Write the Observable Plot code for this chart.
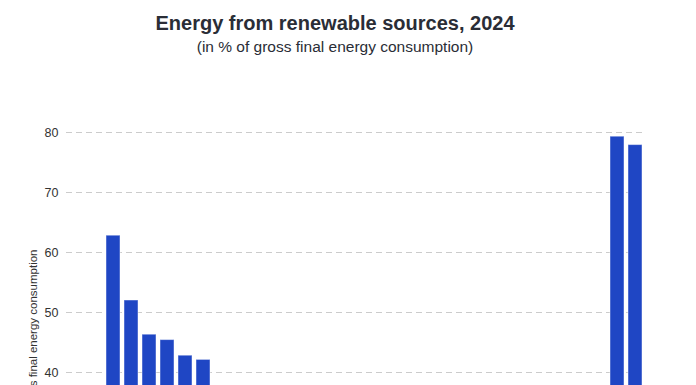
<!DOCTYPE html>
<html>
<head>
<meta charset="utf-8">
<script src="https://cdn.jsdelivr.net/npm/d3@7"></script>
<script src="https://cdn.jsdelivr.net/npm/@observablehq/plot@0.6"></script>
<style>
  html, body { margin: 0; padding: 0; background: #fff; }
  body { font-family: "Liberation Sans", Arial, Helvetica, sans-serif; width: 696px; height: 385px; overflow: hidden; }
  #title { box-sizing: border-box; height: 34px; padding-top: 12px; width: 670px; text-align: center;
           font-size: 20px; line-height: 22px; font-weight: bold; color: #2a2d36; }
  #subtitle { box-sizing: border-box; height: 26px; padding-top: 4px; width: 670px; text-align: center;
              font-size: 15.5px; line-height: 17px; color: #2a2d36; }
  #chart { height: 325px; overflow: hidden; }
  #chart svg { display: block; overflow: hidden; }
</style>
</head>
<body>
<div id="title">Energy from renewable sources, 2024</div>
<div id="subtitle">(in % of gross final energy consumption)</div>
<div id="chart"></div>
<script>
// Categories in display order (blank entries are spacer slots)
const categories = ["EU", " ", "Sweden", "Finland", "Denmark", "Estonia", "Latvia", "Austria",
  "Portugal", "Lithuania", "Croatia", "Greece", "Spain", "Romania", "Slovenia", "Germany",
  "France", "Bulgaria", "Cyprus", "Italy", "Czechia", "Netherlands", "Slovakia", "Poland",
  "Hungary", "Ireland", "Malta", "Luxembourg", "Belgium", "  ", "Iceland", "Norway"];
// Renewable share, % (null for spacer slots)
const values = [25.2, null, 62.8, 52.0, 46.3, 45.4, 42.8, 42.1,
  36.6, 33.0, 28.5, 26.5, 26.2, 25.7, 25.0, 22.4,
  22.3, 22.0, 20.5, 19.6, 19.2, 18.5, 17.8, 17.2,
  16.5, 15.8, 15.1, 14.5, 14.3, null, 79.3, 77.9];
// Tick labels visible in the (cropped) view
const yTicks = [40, 50, 60, 70, 80];
const yLabel = "% of gross final energy consumption";

const data = categories.map((c, i) => ({country: c, value: values[i]})).filter(d => d.value != null);

const font = "'Liberation Sans', Arial, Helvetica, sans-serif";
const plot = Plot.plot({
  width: 696,
  height: 325,
  marginLeft: 66,
  marginRight: 50,
  marginTop: 72,
  marginBottom: 0,
  style: {fontFamily: font, fontSize: "12px", color: "#333", background: "transparent", overflow: "hidden"},
  x: {domain: categories, paddingInner: 0.22, paddingOuter: 0.1, axis: null},
  y: {domain: [0, 80], range: [552, 72], axis: null},
  marks: [
    Plot.ruleY(yTicks, {stroke: "#cccccc", strokeWidth: 1, strokeDasharray: "6,4"}),
    Plot.barY(data, {x: "country", y: "value", fill: "#1f46c4", stroke: "white", strokeOpacity: 0.45, strokeWidth: 1}),
    Plot.axisY({ticks: yTicks, tickSize: 0, tickPadding: 8, fontSize: 12.5, fill: "#333", label: null}),
    Plot.text([yLabel], {text: d => d, frameAnchor: "top-left", dx: -33, dy: 117, rotate: -90,
                         textAnchor: "end", lineAnchor: "middle", fontSize: 11.5, fill: "#333"})
  ]
});
document.getElementById("chart").appendChild(plot);
</script>
</body>
</html>
